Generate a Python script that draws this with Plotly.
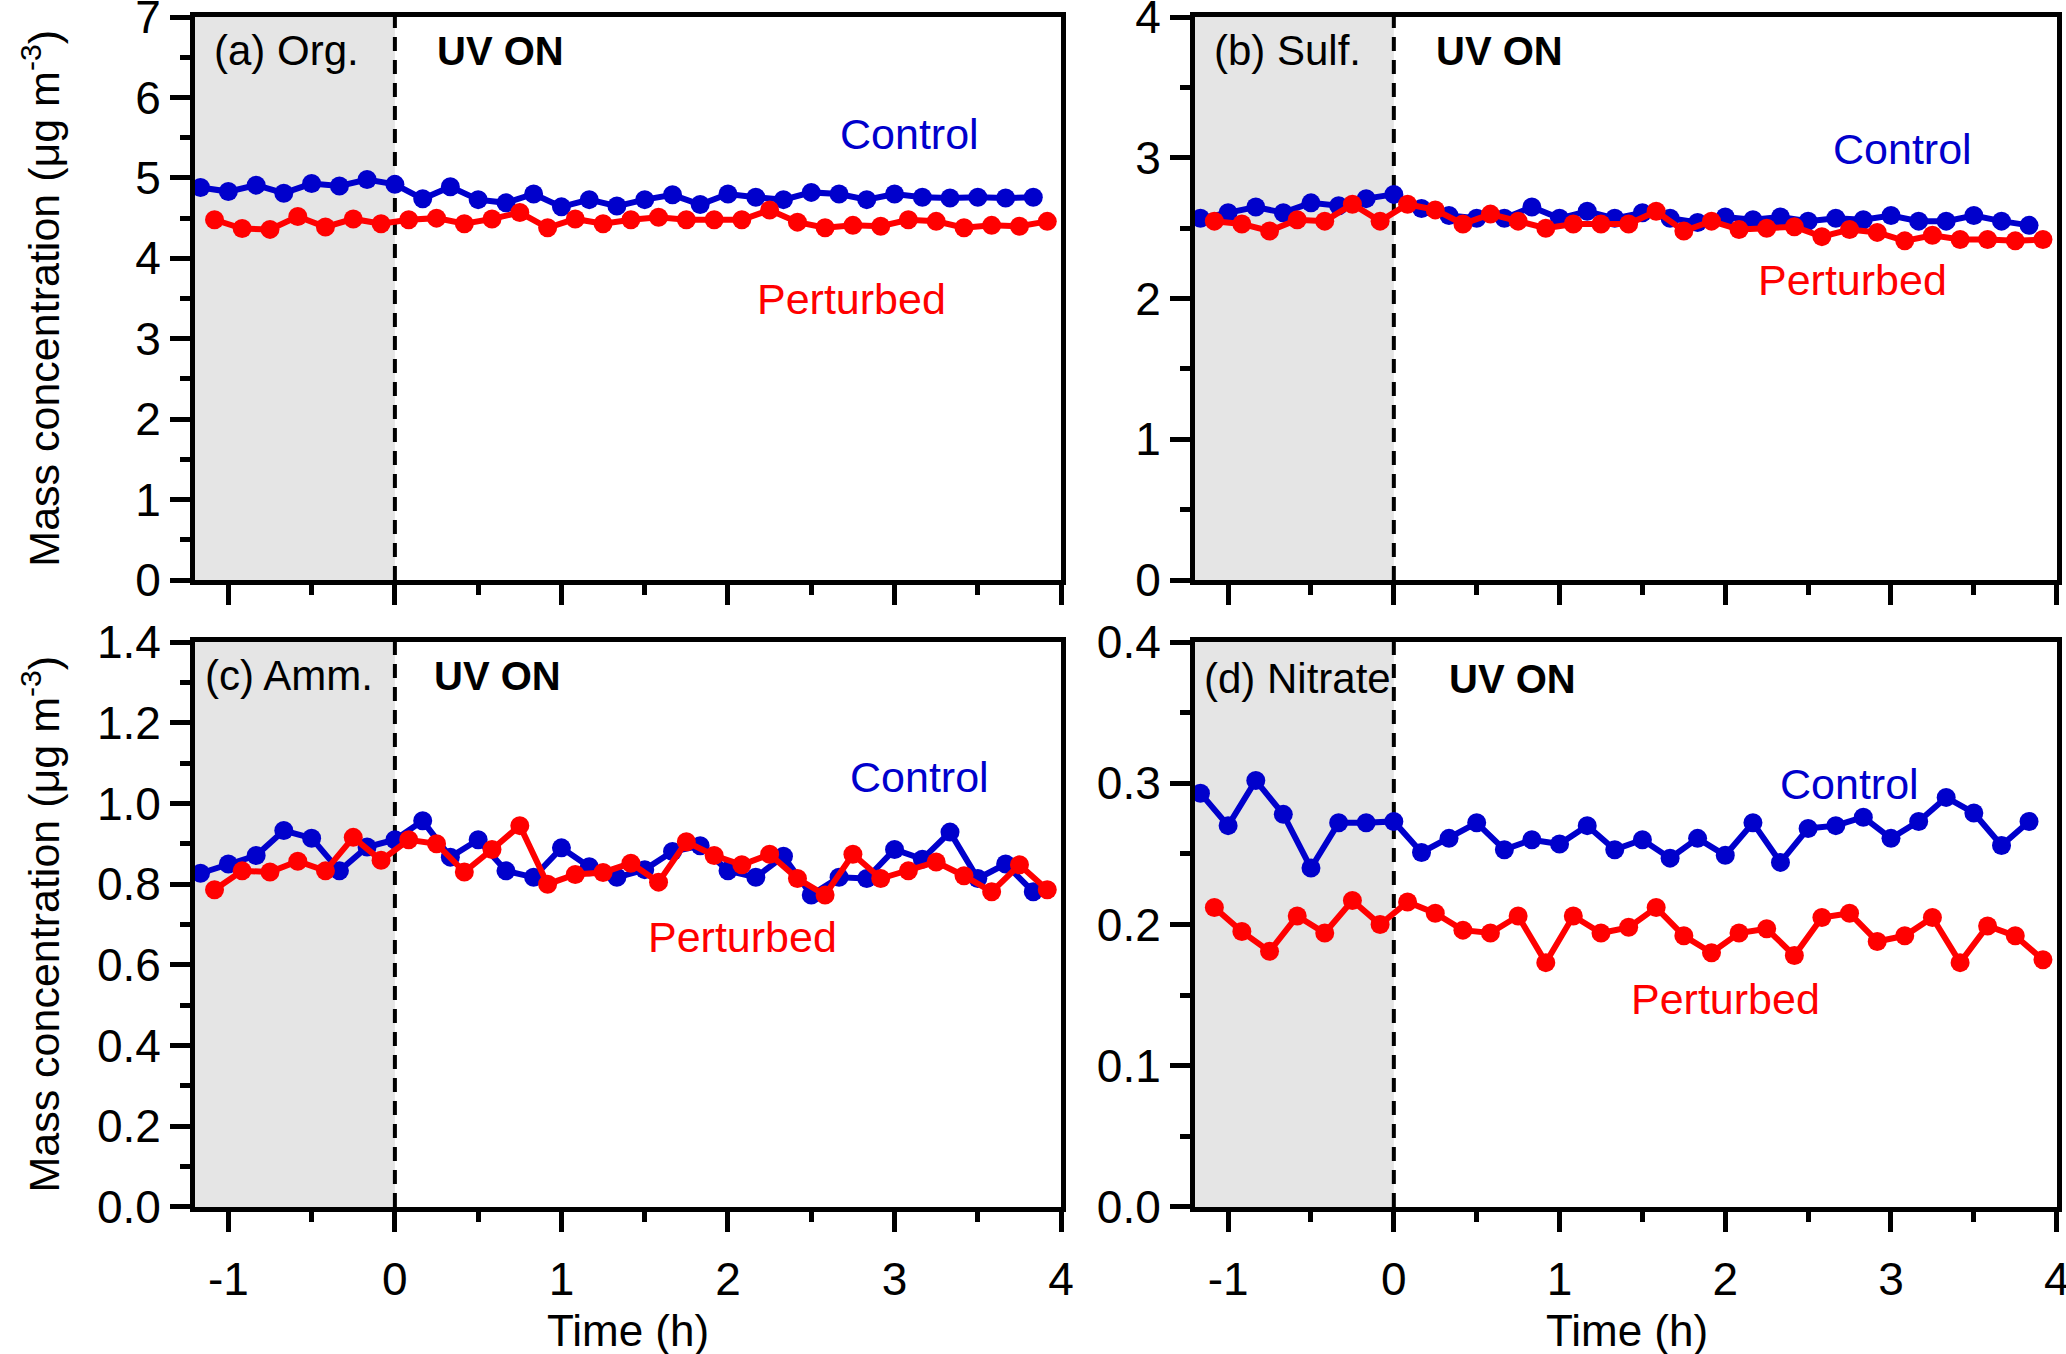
import plotly.graph_objects as go

# sampling times (h), control and perturbed runs are offset by 5 min
ctrl_t = [-1.167, -1.0, -0.833, -0.667, -0.5, -0.333, -0.167, 0.0, 0.167, 0.333, 0.5,
          0.667, 0.833, 1.0, 1.167, 1.333, 1.5, 1.667, 1.833, 2.0, 2.167, 2.333,
          2.5, 2.667, 2.833, 3.0, 3.167, 3.333, 3.5, 3.667, 3.833]
pert_t = [-1.083, -0.917, -0.75, -0.583, -0.417, -0.25, -0.083, 0.083, 0.25, 0.417, 0.583,
          0.75, 0.917, 1.083, 1.25, 1.417, 1.583, 1.75, 1.917, 2.083, 2.25, 2.417,
          2.583, 2.75, 2.917, 3.083, 3.25, 3.417, 3.583, 3.75, 3.917]

org_ctrl = [4.88, 4.83, 4.91, 4.81, 4.93, 4.90, 4.98, 4.92, 4.74, 4.89, 4.73, 4.69, 4.80, 4.64,
            4.73, 4.65, 4.73, 4.79, 4.67, 4.80, 4.76, 4.73, 4.82, 4.80, 4.73, 4.80, 4.76, 4.75,
            4.76, 4.75, 4.76]
org_pert = [4.48, 4.37, 4.36, 4.52, 4.39, 4.49, 4.43, 4.48, 4.50, 4.43, 4.49, 4.57, 4.38, 4.49,
            4.43, 4.48, 4.51, 4.48, 4.48, 4.48, 4.60, 4.45, 4.38, 4.41, 4.40, 4.48, 4.46, 4.38,
            4.41, 4.40, 4.46]
sulf_ctrl = [2.57, 2.61, 2.65, 2.61, 2.68, 2.66, 2.71, 2.74, 2.64, 2.59, 2.57, 2.57, 2.65, 2.57,
             2.62, 2.57, 2.61, 2.57, 2.54, 2.58, 2.56, 2.58, 2.55, 2.57, 2.56, 2.59, 2.55, 2.55,
             2.59, 2.55, 2.52]
sulf_pert = [2.55, 2.53, 2.48, 2.56, 2.55, 2.67, 2.55, 2.67, 2.63, 2.53, 2.60, 2.55, 2.50, 2.53,
             2.53, 2.53, 2.62, 2.48, 2.55, 2.49, 2.50, 2.51, 2.44, 2.49, 2.47, 2.41, 2.45, 2.42,
             2.42, 2.41, 2.42]
amm_ctrl = [0.827, 0.850, 0.871, 0.933, 0.914, 0.833, 0.892, 0.910, 0.957, 0.867, 0.910, 0.833,
            0.817, 0.890, 0.843, 0.817, 0.836, 0.881, 0.895, 0.833, 0.817, 0.869, 0.773, 0.817,
            0.814, 0.886, 0.862, 0.929, 0.814, 0.850, 0.781]
amm_pert = [0.786, 0.833, 0.830, 0.857, 0.833, 0.916, 0.859, 0.910, 0.900, 0.830, 0.886, 0.945,
            0.800, 0.824, 0.829, 0.852, 0.805, 0.905, 0.871, 0.848, 0.874, 0.814, 0.773, 0.874,
            0.814, 0.833, 0.855, 0.821, 0.781, 0.848, 0.786]
nit_ctrl = [0.293, 0.270, 0.302, 0.278, 0.240, 0.272, 0.272, 0.273, 0.251, 0.261, 0.272, 0.253,
            0.260, 0.257, 0.270, 0.253, 0.260, 0.247, 0.261, 0.249, 0.272, 0.244, 0.268, 0.270,
            0.276, 0.261, 0.273, 0.290, 0.279, 0.256, 0.273]
nit_pert = [0.212, 0.195, 0.181, 0.206, 0.194, 0.217, 0.200, 0.216, 0.208, 0.196, 0.194, 0.206,
            0.173, 0.206, 0.194, 0.198, 0.212, 0.192, 0.180, 0.194, 0.197, 0.178, 0.205, 0.208,
            0.188, 0.192, 0.205, 0.173, 0.199, 0.192, 0.175]

panel_labels = ["(a) Org.", "(b) Sulf.", "(c) Amm.", "(d) Nitrate"]
x_ticks = [-1, 0, 1, 2, 3, 4]
x_ticktext = ["-1", "0", "1", "2", "3", "4"]

FONT = "Liberation Sans, Arial, sans-serif"
BLUE = "#0000cc"
RED = "#ff0000"

# per panel: data, y range, y dtick, minor dtick, tick format, label positions
panels = [
    dict(c=org_ctrl, p=org_pert, yr=[0, 7], dt=1, mdt=0.5, fmt="d",
         xd=[0.0944, 0.5136], yd=[0.5716, 0.9874], lab_x=-1.10, uv_x=0.24, lab_y=0.94,
         ctrl_pos=(3.09, 5.54), pert_pos=(2.74, 3.50), bottom=False),
    dict(c=sulf_ctrl, p=sulf_pert, yr=[0, 4], dt=1, mdt=0.5, fmt="d",
         xd=[0.5784, 0.9955], yd=[0.5716, 0.9874], lab_x=-1.10, uv_x=0.24, lab_y=0.94,
         ctrl_pos=(3.07, 3.06), pert_pos=(2.77, 2.13), bottom=False),
    dict(c=amm_ctrl, p=amm_pert, yr=[0, 1.4], dt=0.2, mdt=0.1, fmt=".1f",
         xd=[0.0944, 0.5136], yd=[0.1086, 0.5258], lab_x=-1.15, uv_x=0.22, lab_y=0.94,
         ctrl_pos=(3.15, 1.066), pert_pos=(2.09, 0.669), bottom=True),
    dict(c=nit_ctrl, p=nit_pert, yr=[0, 0.4], dt=0.1, mdt=0.05, fmt=".1f",
         xd=[0.5784, 0.9955], yd=[0.1086, 0.5258], lab_x=-1.16, uv_x=0.32, lab_y=0.935,
         ctrl_pos=(2.75, 0.2995), pert_pos=(2.0, 0.147), bottom=True),
]

fig = go.Figure()
shapes = []
annotations = []

for i, pn in enumerate(panels):
    n = "" if i == 0 else str(i + 1)
    xref, yref = "x" + n, "y" + n

    fig.add_trace(go.Scatter(x=ctrl_t, y=pn["c"], mode="lines+markers", xaxis=xref, yaxis=yref,
                             line=dict(color=BLUE, width=6), marker=dict(color=BLUE, size=19),
                             cliponaxis=False, showlegend=False))
    fig.add_trace(go.Scatter(x=pert_t, y=pn["p"], mode="lines+markers", xaxis=xref, yaxis=yref,
                             line=dict(color=RED, width=6), marker=dict(color=RED, size=19),
                             cliponaxis=False, showlegend=False))

    axis_common = dict(showline=True, linecolor="black", linewidth=5, mirror=True,
                       ticks="outside", tickcolor="black", tickwidth=5, ticklen=20,
                       showgrid=False, zeroline=False, automargin=False,
                       ticklabeloverflow="allow",
                       tickfont=dict(family=FONT, size=46, color="black"))
    fig.update_layout(**{
        "xaxis" + n: dict(axis_common, domain=pn["xd"], range=[-1.2, 4], anchor=yref,
                          tickmode="array", tickvals=x_ticks, ticktext=x_ticktext,
                          showticklabels=pn["bottom"], ticklabelstandoff=8,
                          minor=dict(ticks="outside", ticklen=10, tickwidth=5,
                                     tickcolor="black", dtick=0.5, tick0=0)),
        "yaxis" + n: dict(axis_common, domain=pn["yd"], range=pn["yr"], anchor=xref,
                          dtick=pn["dt"], tick0=0, tickformat=pn["fmt"],
                          minor=dict(ticks="outside", ticklen=10, tickwidth=5,
                                     tickcolor="black", dtick=pn["mdt"], tick0=0)),
    })

    # dark period before UV
    shapes.append(dict(type="rect", xref=xref, yref=yref + " domain", x0=-1.2, x1=0, y0=0, y1=1,
                       fillcolor="#e5e5e5", line=dict(width=0), layer="below"))
    shapes.append(dict(type="line", xref=xref, yref=yref + " domain", x0=0, x1=0, y0=0, y1=1,
                       line=dict(color="black", width=4, dash="14px,9px"), layer="below"))

    annotations.append(dict(text=panel_labels[i], xref=xref, yref=yref + " domain",
                            x=pn["lab_x"], y=pn["lab_y"], xanchor="left", yanchor="middle",
                            showarrow=False, font=dict(family=FONT, size=42, color="black")))
    annotations.append(dict(text="<b>UV ON</b>", xref=xref, yref=yref + " domain",
                            x=pn["uv_x"], y=pn["lab_y"], xanchor="left", yanchor="middle",
                            showarrow=False, font=dict(family=FONT, size=40, color="black")))
    annotations.append(dict(text="Control", xref=xref, yref=yref,
                            x=pn["ctrl_pos"][0], y=pn["ctrl_pos"][1], showarrow=False,
                            font=dict(family=FONT, size=43, color=BLUE)))
    annotations.append(dict(text="Perturbed", xref=xref, yref=yref,
                            x=pn["pert_pos"][0], y=pn["pert_pos"][1], showarrow=False,
                            font=dict(family=FONT, size=43, color=RED)))

# y titles, one per row
for yc in [0.7795, 0.3172]:
    annotations.append(dict(text="Mass concentration (μg m<sup>-3</sup>)", xref="paper", yref="paper",
                            x=0.0194, y=yc, xanchor="center", yanchor="middle", textangle=-90,
                            showarrow=False, font=dict(family=FONT, size=43, color="black")))
# x titles under the bottom panels
for xc in [0.304, 0.7875]:
    annotations.append(dict(text="Time (h)", xref="paper", yref="paper", x=xc, y=0.017,
                            xanchor="center", yanchor="middle", showarrow=False,
                            font=dict(family=FONT, size=44, color="black")))

fig.update_layout(width=2066, height=1354, margin=dict(l=0, r=0, t=0, b=0),
                  paper_bgcolor="white", plot_bgcolor="white", template="none",
                  shapes=shapes, annotations=annotations, showlegend=False)

fig.write_html("out.html", config={"displayModeBar": False},
               post_script="document.body.style.margin='0';")
